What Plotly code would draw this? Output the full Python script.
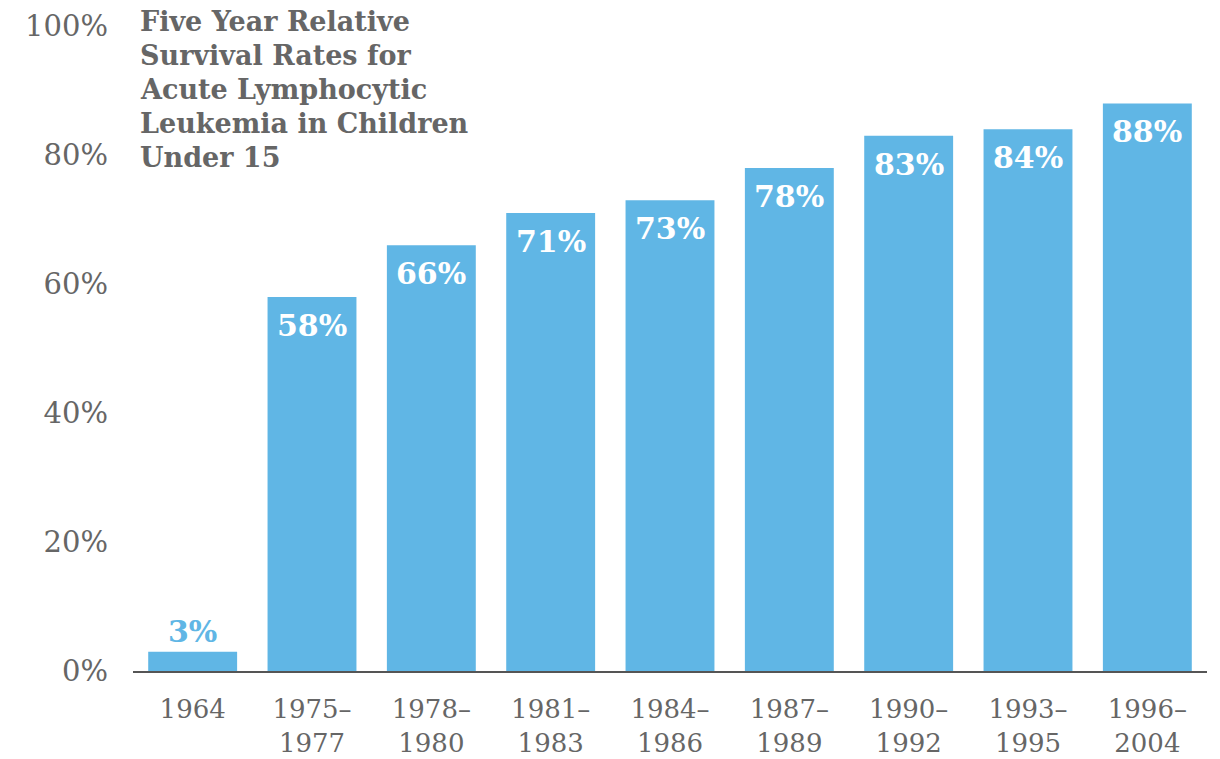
import plotly.graph_objects as go

categories = ["1964", "1975–1977", "1978–1980", "1981–1983", "1984–1986",
              "1987–1989", "1990–1992", "1993–1995", "1996–2004"]
tick_text = ["1964", "1975–<br>1977", "1978–<br>1980", "1981–<br>1983", "1984–<br>1986",
             "1987–<br>1989", "1990–<br>1992", "1993–<br>1995", "1996–<br>2004"]
values = [3, 58, 66, 71, 73, 78, 83, 84, 88]
y_ticks = [0, 20, 40, 60, 80, 100]
y_tick_text = ["0%", "20%", "40%", "60%", "80%", "100%"]
title_lines = ["Five Year Relative", "Survival Rates for", "Acute Lymphocytic",
               "Leukemia in Children", "Under 15"]

BAR = "#60B6E5"
GRAY = "#666666"
FONT = "DejaVu Serif"

fig = go.Figure(go.Bar(x=categories, y=values, marker_color=BAR, marker_line_width=0,
                       hoverinfo="skip"))

annotations = []
for i, v in enumerate(values):
    if v < 10:
        annotations.append(dict(x=i, y=v, xref="x", yref="y", text=f"{v}%", showarrow=False,
                                yanchor="bottom", yshift=1,
                                font=dict(family=FONT, size=30, color=BAR, weight="bold")))
    else:
        annotations.append(dict(x=i, y=v, xref="x", yref="y", text=f"{v}%", showarrow=False,
                                yanchor="top", yshift=-9,
                                font=dict(family=FONT, size=30, color="white", weight="bold")))

H_PLOT = 645.0
for i, line in enumerate(title_lines):
    py = 22 + i * 33.8
    annotations.append(dict(x=0.005, y=(671 - py) / H_PLOT, xref="paper", yref="paper",
                            text=line, showarrow=False, xanchor="left", yanchor="middle",
                            font=dict(family=FONT, size=27, color=GRAY, weight="bold")))

fig.update_layout(
    width=1220, height=759,
    margin=dict(l=133, r=13, t=26, b=88),
    paper_bgcolor="white", plot_bgcolor="white",
    bargap=0.255,
    showlegend=False,
    annotations=annotations,
    xaxis=dict(type="category", range=[-0.5, len(categories) - 0.5], automargin=False,
               tickmode="array", tickvals=categories, ticktext=tick_text,
               showline=True, linecolor="#555555", linewidth=2, ticks="",
               ticklabelstandoff=14,
               tickfont=dict(family=FONT, size=26, color=GRAY),
               showgrid=False, zeroline=False),
    yaxis=dict(range=[0, 100], tickmode="array", tickvals=y_ticks, ticktext=y_tick_text,
               automargin=False,
               showgrid=False, zeroline=False, showline=False, ticks="",
               ticklabelstandoff=24,
               tickfont=dict(family=FONT, size=29, color=GRAY)),
)

fig.write_html("out.html")
